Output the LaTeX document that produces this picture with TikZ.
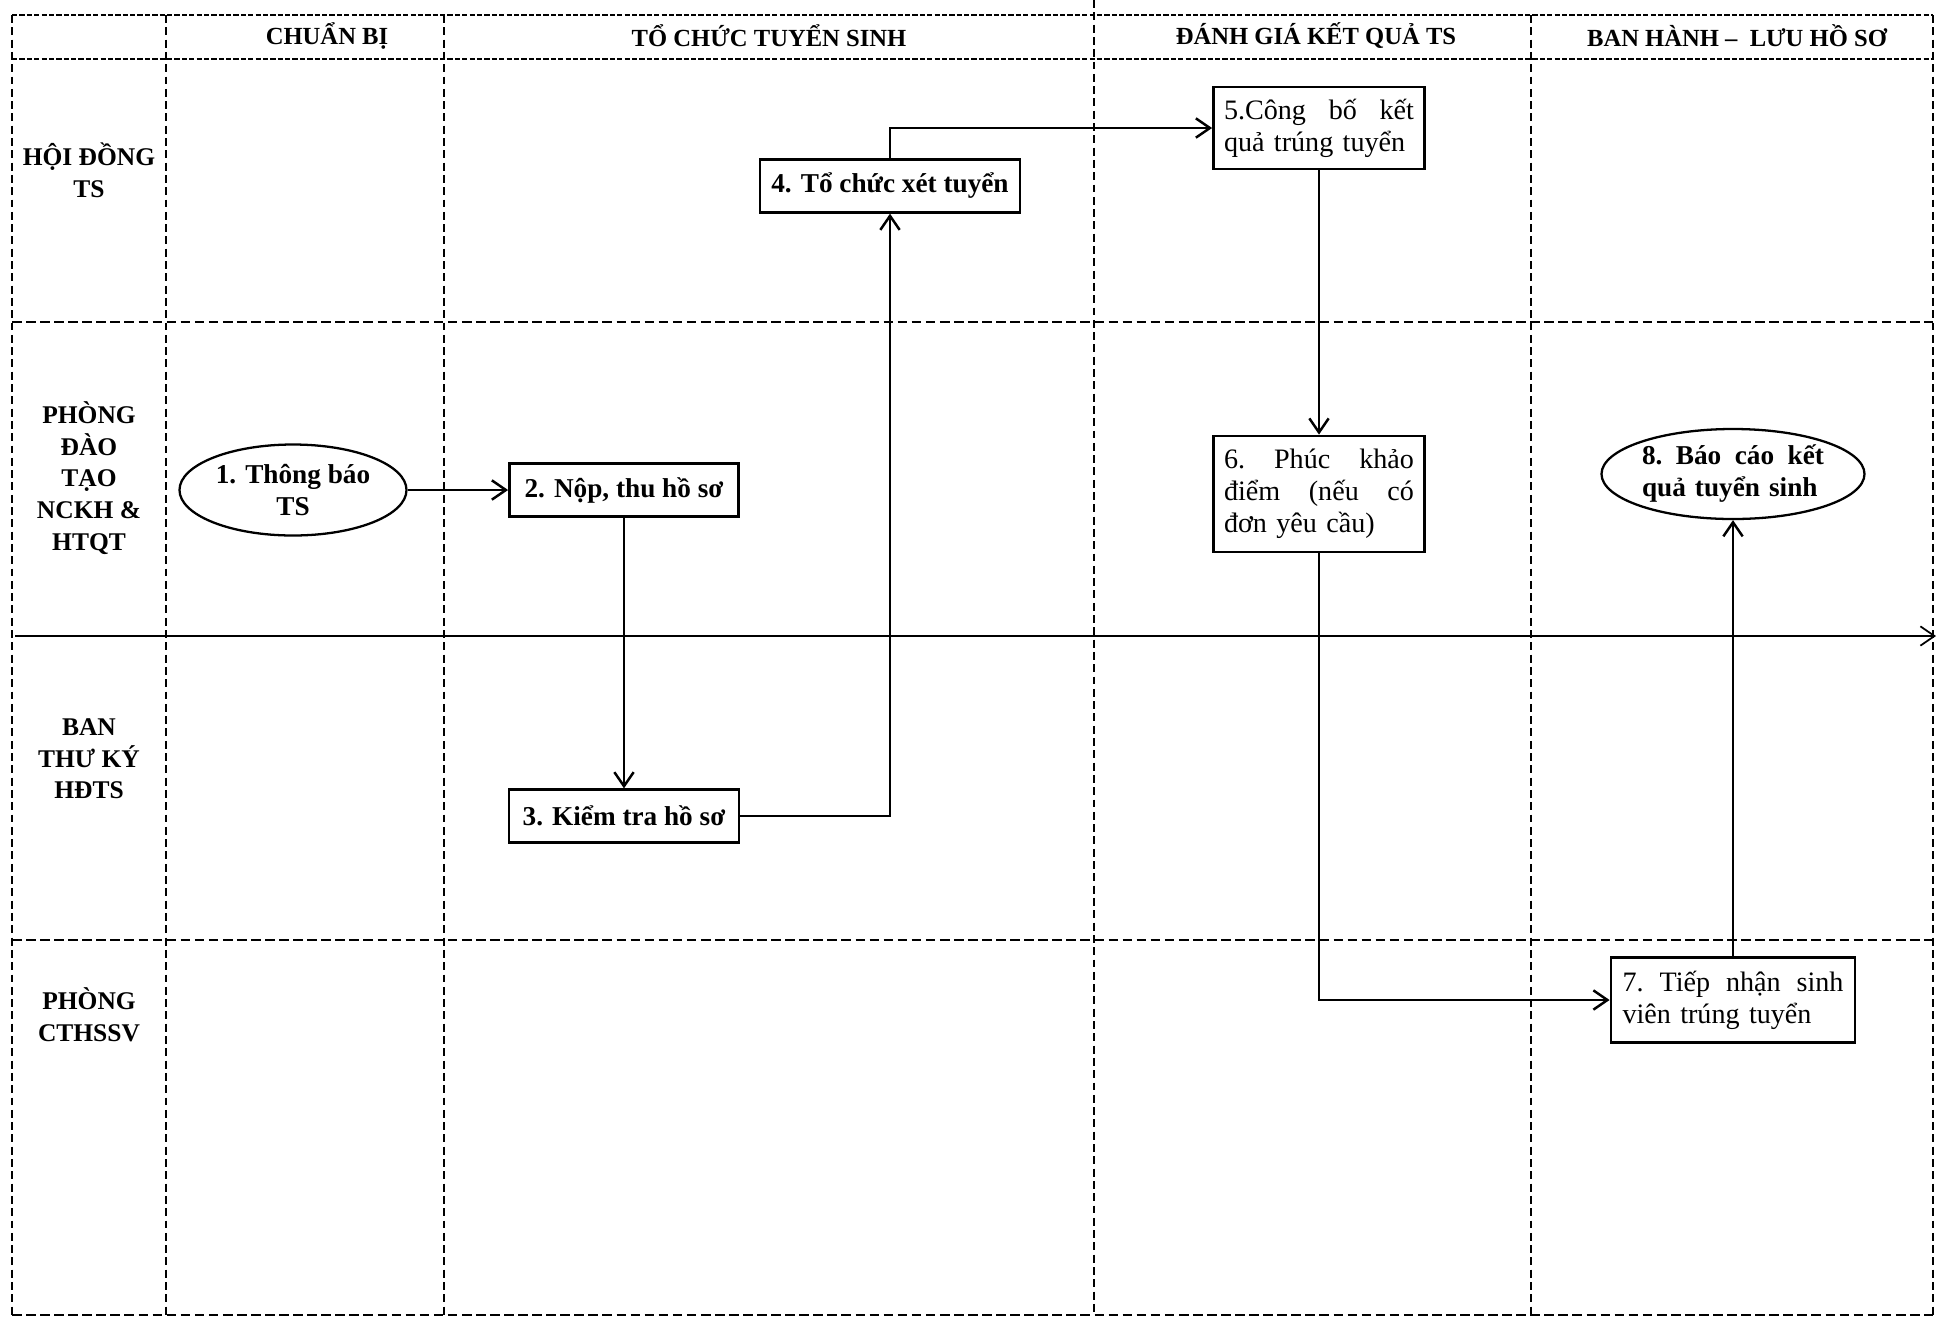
\documentclass[tikz,border=0pt]{standalone}
\usepackage{fontspec}
\setmainfont{Liberation Serif}
\usetikzlibrary{arrows.meta,shapes.geometric}

\newcommand{\spreadline}[2]{\makebox[#1][l]{#2}}

\begin{document}
\begin{tikzpicture}[
    hlane/.style={line width=1.1pt, dash pattern=on 5.5pt off 2.5pt},
    vlane/.style={line width=1.1pt, dash pattern=on 4.5pt off 2.5pt},
    rim/.style={line width=1.6pt, dash pattern=on 3pt off 1.2pt},
    colhead/.style={font=\bfseries\fontsize{14}{17}\selectfont},
    rowhead/.style={align=center, font=\bfseries\fontsize{14.5}{18}\selectfont},
    task/.style={draw, fill=white, line width=1.6pt, inner sep=0pt, minimum width=#1,
                 minimum height=1.05cm, font=\bfseries\fontsize{15.5}{18}\selectfont},
    note/.style={draw, fill=white, line width=1.6pt, text width=#1, align=left,
                 inner xsep=0.21cm, font=\fontsize{16}{18.2}\selectfont},
    term/.style={draw, fill=white, ellipse, line width=1.3pt, inner sep=0pt,
                 font=\bfseries\fontsize{15.5}{18.2}\selectfont},
    flow/.style={-{Straight Barb[length=8pt,width=11pt]}, line width=1.4pt},
  ]
    \useasboundingbox (0,0) rectangle (38.78,-26.40);

    % Lanes
    \foreach \x in {0.24, 3.32, 8.88, 30.62, 38.66}
      \draw[vlane] (\x,-0.30) -- (\x,-26.30);
    \draw[vlane] (21.88,0) -- (21.88,-26.30);
    \foreach \y in {-6.44, -18.80, -26.30}
      \draw[hlane] (0.24,\y) -- (38.66,\y);
    \foreach \y in {-0.30, -1.18}
      \draw[rim] (0.24,\y) -- (38.66,\y);

    % Column titles
    \node[colhead] (chuanbi) at (6.54,-0.72)  {CHUẨN BỊ};
    \node[colhead] (tochuc)  at (15.38,-0.72) {TỔ CHỨC TUYỂN SINH};
    \node[colhead] (danhgia) at (26.32,-0.72) {ĐÁNH GIÁ KẾT QUẢ TS};
    \node[colhead] (banhanh) at (34.74,-0.72) {BAN HÀNH –~~LƯU HỒ SƠ};

    % Row titles
    \node[rowhead] (hoidong) at (1.78,-3.40)  {HỘI ĐỒNG\\TS};
    \node[rowhead] (daotao)  at (1.78,-9.56)  {PHÒNG\\ĐÀO\\TẠO\\NCKH \&\\HTQT};
    \node[rowhead] (thuky)   at (1.78,-15.18) {BAN\\THƯ KÝ\\HĐTS};
    \node[rowhead] (cthssv)  at (1.78,-20.30) {PHÒNG\\CTHSSV};

    % Divider
    \coordinate (mid-in)  at (0.30,-12.72);
    \coordinate (mid-out) at (38.72,-12.72);
    \draw[flow, line width=1pt] (mid-in) -- (mid-out);

    % Steps
    \node[term, minimum width=4.54cm, minimum height=1.82cm, align=center]
      (thongbao) at (5.86,-9.80) {1. Thông báo\\TS};
    \node[task=4.58cm] (nophs)    at (12.48,-9.80)  {2. Nộp, thu hồ sơ};
    \node[task=4.60cm] (kiemtra)  at (12.48,-16.32) {3. Kiểm tra hồ sơ};
    \node[task=5.20cm] (xettuyen) at (17.80,-3.72)  {4. Tổ chức xét tuyển};
    \node[note=3.80cm, minimum height=1.64cm] (congbo) at (26.38,-2.56)
      {\spreadline{3.80cm}{5.Công\hfill bố\hfill kết}\\quả trúng tuyển};
    \node[note=3.80cm, minimum height=2.32cm] (phuckhao) at (26.38,-9.88)
      {\spreadline{3.80cm}{6.\hfill Phúc\hfill khảo}\\
       \spreadline{3.80cm}{điểm\hfill (nếu\hfill có}\\đơn yêu cầu)};
    \node[note=4.42cm, inner xsep=0.23cm, minimum height=1.70cm] (tiepnhan) at (34.66,-20.00)
      {\spreadline{4.42cm}{7.\hfill Tiếp\hfill nhận\hfill sinh}\\viên trúng tuyển};
    \node[term, text width=3.64cm, align=left, minimum width=5.26cm, minimum height=1.80cm]
      (baocao) at (34.66,-9.48) {\spreadline{3.64cm}{8.\hfill Báo\hfill cáo\hfill kết}\\quả tuyển sinh};

    % Flow
    \draw[flow] (thongbao) -- (nophs);
    \draw[flow] (nophs) -- (kiemtra);
    \draw[flow] (kiemtra.east) -| (xettuyen.south);
    \draw[flow] (xettuyen.north) |- (congbo.west);
    \draw[flow] (congbo) -- (phuckhao);
    \draw[flow] (phuckhao.south) |- (tiepnhan.west);
    \draw[flow] (tiepnhan) -- (baocao);
  \end{tikzpicture}
\end{document}
